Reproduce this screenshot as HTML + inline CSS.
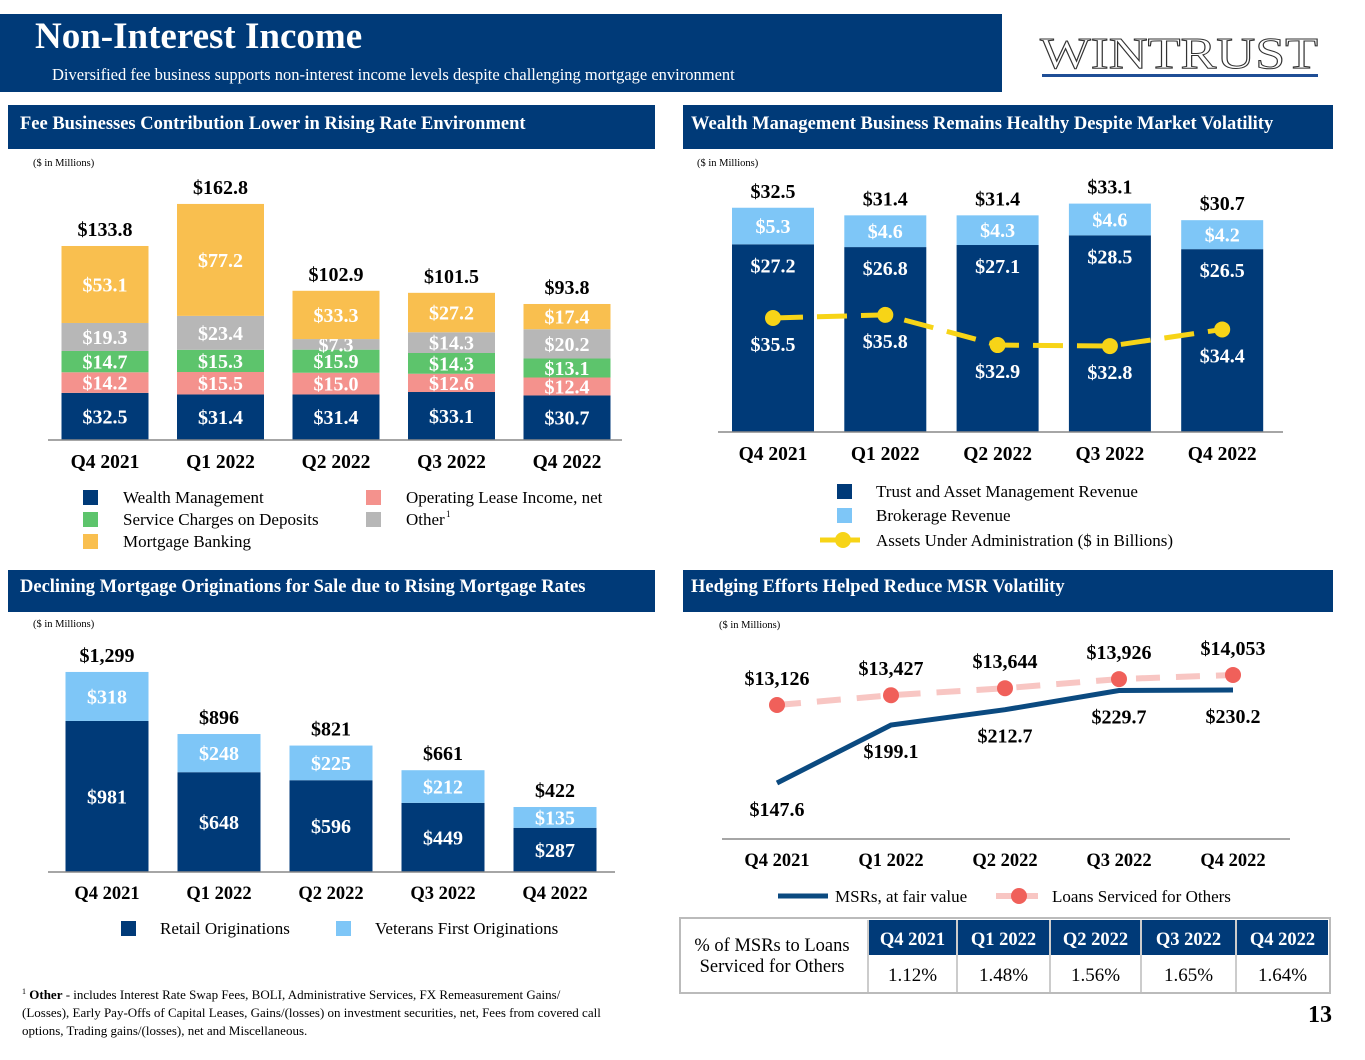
<!DOCTYPE html>
<html><head><meta charset="utf-8"><style>
body{margin:0;background:#fff;}
svg text{font-family:"Liberation Serif",serif;}
</style></head><body>
<svg id="s" width="1365" height="1055" viewBox="0 0 1365 1055" xmlns="http://www.w3.org/2000/svg">
<rect x="0" y="14" width="1002" height="78" fill="#003a78"/>
<text x="35" y="48" font-size="37" font-weight="bold" fill="#fff">Non-Interest Income</text>
<text x="52" y="80" font-size="16.5" fill="#fff">Diversified fee business supports non-interest income levels despite challenging mortgage environment</text>
<text x="1040" y="68" font-size="44" fill="#fff" stroke="#333" stroke-width="1" textLength="278" lengthAdjust="spacingAndGlyphs">WINTRUST</text>
<rect x="1042" y="74" width="276" height="3" fill="#1f4e96"/>

<rect x="8" y="105" width="647" height="44" fill="#003a78"/>
<text x="20" y="129" font-size="18.5" font-weight="bold" fill="#fff">Fee Businesses Contribution Lower in Rising Rate Environment</text>
<rect x="683" y="105" width="650" height="44" fill="#003a78"/>
<text x="691" y="129" font-size="18.5" font-weight="bold" fill="#fff">Wealth Management Business Remains Healthy Despite Market Volatility</text>
<rect x="8" y="570" width="647" height="42" fill="#003a78"/>
<text x="20" y="592" font-size="18.5" font-weight="bold" fill="#fff">Declining Mortgage Originations for Sale due to Rising Mortgage Rates</text>
<rect x="683" y="570" width="650" height="42" fill="#003a78"/>
<text x="691" y="592" font-size="18.5" font-weight="bold" fill="#fff">Hedging Efforts Helped Reduce MSR Volatility</text>

<text x="33" y="166" font-size="10.5">($ in Millions)</text>
<text x="697" y="166" font-size="10.5">($ in Millions)</text>
<text x="33" y="627" font-size="10.5">($ in Millions)</text>
<text x="719" y="628" font-size="10.5">($ in Millions)</text>

<g id="c1"></g><g id="c2"></g><g id="c3"></g><g id="c4"></g><g id="tbl"></g>

<text font-size="13" fill="#000">
<tspan x="22" y="999"><tspan font-size="8" dy="-5">1</tspan><tspan dy="5" font-weight="bold"> Other</tspan> - includes Interest Rate Swap Fees, BOLI, Administrative Services, FX Remeasurement Gains/</tspan>
<tspan x="22" y="1017">(Losses), Early Pay-Offs of Capital Leases, Gains/(losses) on investment securities, net, Fees from covered call</tspan>
<tspan x="22" y="1035">options, Trading gains/(losses), net and Miscellaneous.</tspan></text>
<text x="1332" y="1022" font-size="24" font-weight="bold" text-anchor="end">13</text>
</svg>
<script>
const NS="http://www.w3.org/2000/svg";
function mk(p,tag,a,txt){const e=document.createElementNS(NS,tag);for(const k in a)e.setAttribute(k,a[k]);if(txt!==undefined)e.textContent=txt;p.appendChild(e);return e;}
const quarters=["Q4 2021","Q1 2022","Q2 2022","Q3 2022","Q4 2022"];
const NAVY="#003a78";

// Chart 1 data
const feeWealth=[32.5,31.4,31.4,33.1,30.7];
const feeLease=[14.2,15.5,15.0,12.6,12.4];
const feeService=[14.7,15.3,15.9,14.3,13.1];
const feeOther=[19.3,23.4,7.3,14.3,20.2];
const feeMortgage=[53.1,77.2,33.3,27.2,17.4];
const feeTotals=[133.8,162.8,102.9,101.5,93.8];
// Chart 2 data
const trustRev=[27.2,26.8,27.1,28.5,26.5];
const brokerRev=[5.3,4.6,4.3,4.6,4.2];
const wealthTotals=[32.5,31.4,31.4,33.1,30.7];
const aua=[35.5,35.8,32.9,32.8,34.4];
// Chart 3 data
const retailOrig=[981,648,596,449,287];
const vetOrig=[318,248,225,212,135];
const origTotals=[1299,896,821,661,422];
// Chart 4 data
const msr=[147.6,199.1,212.7,229.7,230.2];
const loansServiced=[13126,13427,13644,13926,14053];
const msrPct=["1.12%","1.48%","1.56%","1.65%","1.64%"];

const LBL=20, TOT=20, TICK=19.5, LEG=17;

// ---- Chart 1
(function(){
 const g=document.getElementById('c1');
 const base=440,k=1.45,w=87;
 const cx=i=>105+i*115.5;
 const y=v=>base-v*k;
 const series=[[feeWealth,"#003a78","wealth"],[feeLease,"#f4928d","lease"],[feeService,"#5dc46c","service"],[feeOther,"#b7b7b7","other"],[feeMortgage,"#f9bf4f","mortgage"]];
 for(let i=0;i<5;i++){
  let acc=0;
  series.forEach(([arr,col,nm])=>{
   const v=arr[i];
   const r=mk(g,'rect',{x:cx(i)-w/2,y:y(acc+v),width:w,height:v*k,fill:col});
   
   
   const t=mk(g,'text',{x:cx(i),y:y(acc+v/2)+7,'font-size':LBL,'font-weight':'bold',fill:'#fff','text-anchor':'middle'},'$'+v.toFixed(1));
   
   
   acc+=v;
  });
  const t=mk(g,'text',{x:cx(i),y:y(feeTotals[i])-10,'font-size':TOT,'font-weight':'bold','text-anchor':'middle'},'$'+feeTotals[i].toFixed(1));
  
  
  const q=mk(g,'text',{x:cx(i),y:468,'font-size':TICK,'font-weight':'bold','text-anchor':'middle'},quarters[i]);
  
  
 }
 const ax=mk(g,'line',{x1:48,x2:622,y1:base,y2:base,stroke:'#888','stroke-width':1.5});
 
 
 const leg=[[83,490,"#003a78","Wealth Management"],[83,512,"#5dc46c","Service Charges on Deposits"],[83,534,"#f9bf4f","Mortgage Banking"],[366,490,"#f4928d","Operating Lease Income, net"],[366,512,"#b7b7b7","Other"]];
 leg.forEach(([x,yy,c,l])=>{
  const s=mk(g,'rect',{x:x,y:yy,width:15,height:15,fill:c});
  
  
  const t=mk(g,'text',{x:x+40,y:yy+13,'font-size':LEG},l);
  
  
 });
 const sup=mk(g,'text',{x:446,y:517,'font-size':9},'1');
 
 
})();

// ---- Chart 2
(function(){
 const g=document.getElementById('c2');
 const base=432,k=6.9,w=82;
 const cx=i=>773+i*112.3;
 const y=v=>base-v*k;
 const ya=v=>318-(v-35.5)*10.4;
 for(let i=0;i<5;i++){
  const r1=mk(g,'rect',{x:cx(i)-w/2,y:y(trustRev[i]),width:w,height:trustRev[i]*k,fill:NAVY});
  
  
  const r2=mk(g,'rect',{x:cx(i)-w/2,y:y(trustRev[i]+brokerRev[i]),width:w,height:brokerRev[i]*k,fill:"#7ec6f7"});
  
  
  const t1=mk(g,'text',{x:cx(i),y:y(trustRev[i])+28,'font-size':LBL,'font-weight':'bold',fill:'#fff','text-anchor':'middle'},'$'+trustRev[i].toFixed(1));
  
  
  const t2=mk(g,'text',{x:cx(i),y:y(trustRev[i]+brokerRev[i]/2)+7,'font-size':LBL,'font-weight':'bold',fill:'#fff','text-anchor':'middle'},'$'+brokerRev[i].toFixed(1));
  
  
  const t3=mk(g,'text',{x:cx(i),y:y(wealthTotals[i])-10,'font-size':TOT,'font-weight':'bold','text-anchor':'middle'},'$'+wealthTotals[i].toFixed(1));
  
  
  const q=mk(g,'text',{x:cx(i),y:460,'font-size':TICK,'font-weight':'bold','text-anchor':'middle'},quarters[i]);
  
  
 }
 const ax=mk(g,'line',{x1:718,x2:1283,y1:base,y2:base,stroke:'#888','stroke-width':1.5});
 
 
 const pts=aua.map((v,i)=>cx(i)+','+ya(v)).join(' ');
 const pl=mk(g,'polyline',{points:pts,fill:'none',stroke:'#f7d417','stroke-width':5,'stroke-dasharray':'30 14'});
 
 
 aua.forEach((v,i)=>{
  const c=mk(g,'circle',{cx:cx(i),cy:ya(v),r:8,fill:'#f7d417'});
  
  
  const t=mk(g,'text',{x:cx(i),y:ya(v)+33,'font-size':LBL,'font-weight':'bold',fill:'#fff','text-anchor':'middle'},'$'+v.toFixed(1));
  
  
 });
 [[484,NAVY,"Trust and Asset Management Revenue"],[508,"#7ec6f7","Brokerage Revenue"]].forEach(([yy,c,l])=>{
  const s=mk(g,'rect',{x:837,y:yy,width:15,height:15,fill:c});
  
  
  const t=mk(g,'text',{x:876,y:yy+13,'font-size':LEG},l);
  
  
 });
 const ll=mk(g,'line',{x1:820,x2:860,y1:540,y2:540,stroke:'#f7d417','stroke-width':5});
 
 
 const lc=mk(g,'circle',{cx:843,cy:540,r:8,fill:'#f7d417'});
 
 
 const lt=mk(g,'text',{x:876,y:546,'font-size':LEG},'Assets Under Administration ($ in Billions)');
 
 
})();

// ---- Chart 3
(function(){
 const g=document.getElementById('c3');
 const base=872,k=0.154,w=83;
 const cx=i=>107+i*112;
 const y=v=>base-v*k;
 for(let i=0;i<5;i++){
  const r1=mk(g,'rect',{x:cx(i)-w/2,y:y(retailOrig[i]),width:w,height:retailOrig[i]*k,fill:NAVY});
  
  
  const r2=mk(g,'rect',{x:cx(i)-w/2,y:y(retailOrig[i]+vetOrig[i]),width:w,height:vetOrig[i]*k,fill:"#7ec6f7"});
  
  
  const t1=mk(g,'text',{x:cx(i),y:y(retailOrig[i]/2)+7,'font-size':LBL,'font-weight':'bold',fill:'#fff','text-anchor':'middle'},'$'+retailOrig[i]);
  
  
  const t2=mk(g,'text',{x:cx(i),y:y(retailOrig[i]+vetOrig[i]/2)+7,'font-size':LBL,'font-weight':'bold',fill:'#fff','text-anchor':'middle'},'$'+vetOrig[i]);
  
  
  const t3=mk(g,'text',{x:cx(i),y:y(origTotals[i])-10,'font-size':TOT,'font-weight':'bold','text-anchor':'middle'},'$'+origTotals[i].toLocaleString('en-US'));
  
  
  const q=mk(g,'text',{x:cx(i),y:899,'font-size':18.5,'font-weight':'bold','text-anchor':'middle'},quarters[i]);
  
  
 }
 const ax=mk(g,'line',{x1:48,x2:615,y1:base,y2:base,stroke:'#888','stroke-width':1.5});
 
 
 [[121,NAVY,"Retail Originations"],[336,"#7ec6f7","Veterans First Originations"]].forEach(([x,c,l])=>{
  const s=mk(g,'rect',{x:x,y:921,width:15,height:15,fill:c});
  
  
  const t=mk(g,'text',{x:x+39,y:934,'font-size':LEG},l);
  
  
 });
})();

// ---- Chart 4
(function(){
 const g=document.getElementById('c4');
 const cx=i=>777+i*114;
 const ym=v=>783-(v-147.6)*1.126;
 const yl=v=>705-(v-13126)*0.0324;
 const lp=mk(g,'polyline',{points:loansServiced.map((v,i)=>cx(i)+','+yl(v)).join(' '),fill:'none',stroke:'#f8c6c3','stroke-width':6,'stroke-dasharray':'24 16'});
 
 
 const mp=mk(g,'polyline',{points:msr.map((v,i)=>cx(i)+','+ym(v)).join(' '),fill:'none',stroke:'#0b4a80','stroke-width':5});
 
 
 for(let i=0;i<5;i++){
  const c=mk(g,'circle',{cx:cx(i),cy:yl(loansServiced[i]),r:8,fill:'#f0605a'});
  
  
  const t=mk(g,'text',{x:cx(i),y:yl(loansServiced[i])-20,'font-size':TOT,'font-weight':'bold','text-anchor':'middle'},'$'+loansServiced[i].toLocaleString('en-US'));
  
  
  const t2=mk(g,'text',{x:cx(i),y:ym(msr[i])+33,'font-size':TOT,'font-weight':'bold','text-anchor':'middle'},'$'+msr[i].toFixed(1));
  
  
  const q=mk(g,'text',{x:cx(i),y:866,'font-size':18.5,'font-weight':'bold','text-anchor':'middle'},quarters[i]);
  
  
 }
 const ax=mk(g,'line',{x1:722,x2:1290,y1:839,y2:839,stroke:'#888','stroke-width':1.5});
 
 
 const l1=mk(g,'line',{x1:778,x2:828,y1:896,y2:896,stroke:'#0b4a80','stroke-width':5});
 
 
 const t1=mk(g,'text',{x:835,y:902,'font-size':LEG},'MSRs, at fair value');
 
 
 const l2=mk(g,'line',{x1:996,x2:1038,y1:896,y2:896,stroke:'#f8c6c3','stroke-width':6});
 
 
 const lc=mk(g,'circle',{cx:1019,cy:896,r:8,fill:'#f0605a'});
 
 
 const t2=mk(g,'text',{x:1052,y:902,'font-size':LEG},'Loans Serviced for Others');
 
 
})();

// ---- Table
(function(){
 const g=document.getElementById('tbl');
 const o=mk(g,'rect',{x:680,y:918,width:650,height:75,fill:'#fff',stroke:'#bbb','stroke-width':2});
 
 
 const lt=mk(g,'text',{x:772,y:951,'font-size':18.5,'text-anchor':'middle'},'% of MSRs to Loans');
 
 
 const lt2=mk(g,'text',{x:772,y:972,'font-size':18.5,'text-anchor':'middle'},'Serviced for Others');
 
 
 const cols=[868,957,1050,1141,1236,1329];
 for(let i=0;i<5;i++){
  const h=mk(g,'rect',{x:cols[i]+1,y:920,width:cols[i+1]-cols[i]-2,height:35,fill:NAVY});
  
  
  const mid=(cols[i]+cols[i+1])/2;
  const ht=mk(g,'text',{x:mid,y:945,'font-size':18.5,'font-weight':'bold',fill:'#fff','text-anchor':'middle'},quarters[i]);
  
  
  const ln=mk(g,'line',{x1:cols[i],x2:cols[i],y1:920,y2:992,stroke:'#bbb','stroke-width':1.5});
  
  
  const vt=mk(g,'text',{x:mid,y:981,'font-size':19,'text-anchor':'middle'},msrPct[i]);
  
  
 }
})();
</script>
</body></html>
